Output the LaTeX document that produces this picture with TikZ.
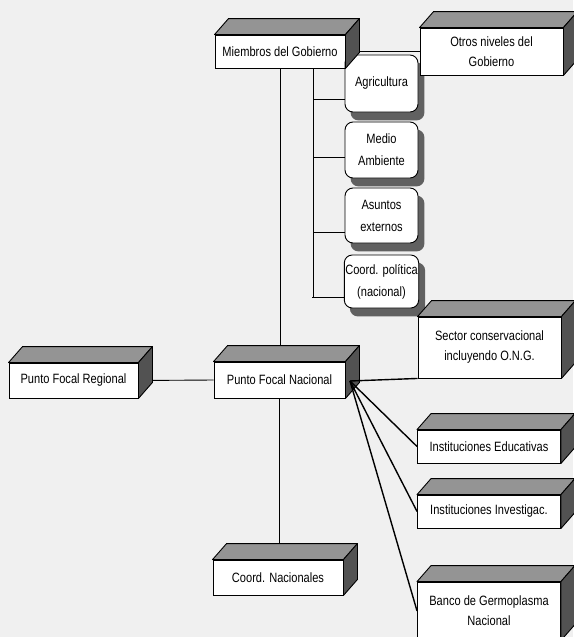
\documentclass[tikz,border=0pt]{standalone}
\usepackage{fontspec}
\setmainfont{Liberation Sans}[FakeStretch=0.82]
\usepackage{tikz}
\usetikzlibrary{calc,backgrounds}

\begin{document}
\begin{tikzpicture}[
    x=1pt, y=-1pt,
    cube/.style={rectangle, draw, fill=white, line width=0.9pt,
                 minimum width=143pt, minimum height=33pt,
                 align=center, inner sep=2pt, font=\fontsize{13.5}{20}\selectfont},
    rbox/.style={rectangle, draw, fill=white, line width=0.9pt, rounded corners=8pt,
                 minimum width=73pt, align=center, inner sep=1pt,
                 font=\fontsize{13.5}{22}\selectfont},
    shade/.style={fill=black!62, rounded corners=8pt},
    topface/.style={draw, fill=black!42, line width=0.9pt, line join=round},
    sideface/.style={draw, fill=black!68, line width=0.9pt, line join=round},
    link/.style={line width=0.9pt},
    fan/.style={line width=1.4pt},
  ]

  \useasboundingbox (0,0) rectangle (573,637);

  % ===== Government level =====
  \node[cube, minimum width=130pt] (miem) at (280,51.5) {Miembros del Gobierno};
  \node[cube, minimum height=47pt] (otros) at (491.5,51.5) {Otros niveles del\\Gobierno};

  % Ministries
  \node[rbox, minimum height=57pt] (agri) at (381.5,83.5) {Agricultura};
  \node[rbox, minimum height=56pt] (medio) at (381.5,150) {Medio\\Ambiente};
  \node[rbox, minimum height=55pt] (asuntos) at (381.5,215.5) {Asuntos\\externos};
  \node[rbox, minimum height=53pt] (coordp) at (381.5,281.5) {Coord. política\\(nacional)};

  % ===== Focal points =====
  \node[cube, minimum width=129pt, minimum height=35pt] (reg) at (73.5,380.5) {Punto Focal Regional};
  \node[cube, minimum width=131pt, minimum height=36pt] (nac) at (279.5,380) {Punto Focal Nacional};
  \node[cube, minimum width=130pt, minimum height=35pt] (coordn) at (278,577.5) {Coord. Nacionales};

  % ===== Partners =====
  \node[cube, minimum height=61pt] (sector) at (489.5,347.5) {Sector conservacional\\incluyendo O.N.G.};
  \node[cube] (educ) at (489,446.5) {Instituciones Educativas};
  \node[cube] (invest) at (489,511.5) {Instituciones Investigac.};
  \node[cube, minimum height=58pt] (banco) at (489,611) {Banco de Germoplasma\\Nacional};

  % top and side faces of the boxes
  \foreach \b in {miem,otros,sector,reg,nac,educ,invest,coordn,banco} {
    \draw[topface] (\b.north west) -- ++(14,-16) -- ($(\b.north east)+(14,-16)$)
                   -- (\b.north east) -- cycle;
    \draw[sideface] (\b.north east) -- ++(14,-16) -- ($(\b.south east)+(14,-16)$)
                    -- (\b.south east) -- cycle;
  }

  % ===== Connectors =====
  \coordinate (spine) at (313,298);
  \coordinate (hub) at (350,381);

  \begin{scope}[on background layer]
    \fill[black!6] (0,0) rectangle (573,637);
    % shadows of the ministries
    \foreach \n in {agri,medio,asuntos,coordp}
      \fill[shade] ([shift={(6,8)}]\n.north west) rectangle ([shift={(6,8)}]\n.south east);
    \draw[link] (miem.east) -- (otros.west);
    \draw[link] (miem.south) -- (miem.south |- nac.north);
    \draw[link] (nac.south) -- (nac.south |- coordn.north);
    \draw[link] (reg.east) -- (nac.west);
    \draw[link] (spine |- miem.south) -- (spine);
    \foreach \n/\d in {agri/16, medio/7, asuntos/17, coordp/16}
      \draw[link] ([yshift=-\d pt]\n.west) -- ++(-32,0);
  \end{scope}

  \draw[fan] (hub) -- (sector.south west);
  \draw[fan] (hub) -- (educ.west);
  \draw[fan] (hub) -- (invest.west);
  \draw[fan] (hub) -- (banco.west);

\end{tikzpicture}
\end{document}
